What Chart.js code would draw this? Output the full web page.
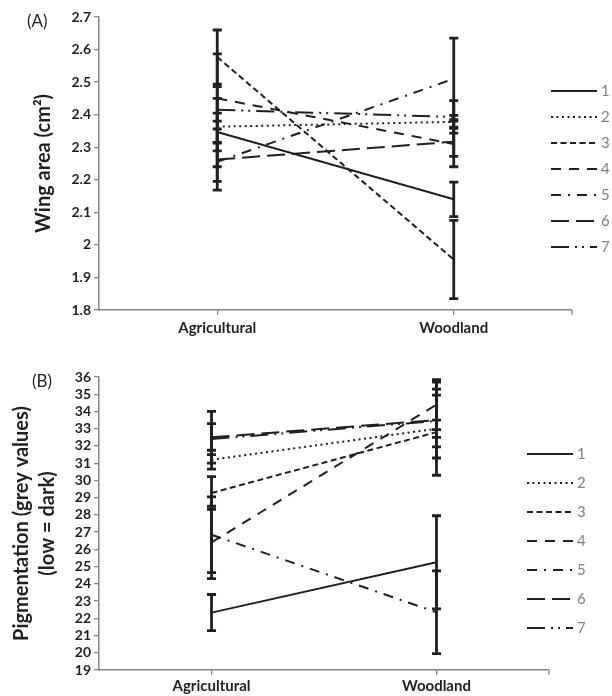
<!DOCTYPE html>
<html><head><meta charset="utf-8">
<script src="https://cdn.jsdelivr.net/npm/chart.js@4"></script>
<style>
body{margin:0;background:#fff;width:612px;height:696px;position:relative;overflow:hidden;font-family:Lato,sans-serif}
#wa{position:absolute;left:0;top:0;width:612px;height:345px}
#wb{position:absolute;left:0;top:345px;width:612px;height:351px}
.pl{position:absolute;font:17px Lato,sans-serif;color:#231f20;line-height:20px}
</style></head><body>
<div id="wa"><canvas id="ca"></canvas></div>
<div id="wb"><canvas id="cb"></canvas></div>
<div class="pl" style="left:27px;top:11px">(A)</div>
<div class="pl" style="left:32px;top:371px">(B)</div>
<script>
// ---- data ----
const categories = ['Agricultural', 'Woodland'];
const seriesNames = ['1', '2', '3', '4', '5', '6', '7'];

// Panel A: wing area (cm²), [Agricultural, Woodland] per series
const wingMeans = [
  [2.347, 2.140],
  [2.363, 2.378],
  [2.577, 1.955],
  [2.450, 2.310],
  [2.255, 2.510],
  [2.262, 2.317],
  [2.415, 2.393]
];
const wingErrors = [
  [0.058, 0.053],
  [0.123, 0.020],
  [0.083, 0.120],
  [0.137, 0.070],
  [0.060, 0.125],
  [0.094, 0.045],
  [0.035, 0.050]
];
const wingTicks = {min: 1.8, max: 2.7, step: 0.1};

// Panel B: pigmentation (grey values)
const pigMeans = [
  [22.33, 25.25],
  [31.20, 33.00],
  [29.27, 32.80],
  [26.40, 34.40],
  [26.85, 22.35],
  [32.50, 33.50],
  [32.40, 33.45]
];
const pigErrors = [
  [1.05, 2.70],
  [0.55, 0.50],
  [0.95, 2.50],
  [2.10, 1.45],
  [2.20, 2.40],
  [1.50, 2.20],
  [0.90, 1.50]
];
const pigTicks = {min: 19, max: 36, step: 1};

// ---- styles ----
const INK = '#231f20', AXIS = '#868686', LEG = '#808080';
const dashes = [[], [2, 3.5], [6, 3.5], [10, 8], [10, 7, 2, 7], [18, 7], [18, 6, 2, 5, 2, 6]];

const errorBars = {
  id: 'errorBars',
  afterDatasetsDraw(chart, args, o) {
    const {ctx, scales: {x, y}} = chart;
    ctx.save();
    ctx.strokeStyle = o.color; ctx.lineWidth = o.width; ctx.setLineDash([]); ctx.lineCap = 'butt';
    chart.data.datasets.forEach(ds => {
      ds.data.forEach((v, i) => {
        const e = ds.errors[i];
        const px = x.getPixelForValue(i);
        const t = y.getPixelForValue(v + e), b = y.getPixelForValue(v - e);
        ctx.beginPath();
        ctx.moveTo(px, t); ctx.lineTo(px, b);
        ctx.moveTo(px - o.cap, t); ctx.lineTo(px + o.cap, t);
        ctx.moveTo(px - o.cap, b); ctx.lineTo(px + o.cap, b);
        ctx.stroke();
      });
    });
    ctx.restore();
  }
};

const sideLegend = {
  id: 'sideLegend',
  afterDraw(chart, args, o) {
    const ctx = chart.ctx;
    ctx.save();
    // end tick of the category axis
    const a = chart.chartArea;
    ctx.strokeStyle = AXIS; ctx.lineWidth = 1.3;
    ctx.beginPath(); ctx.moveTo(a.right, a.bottom); ctx.lineTo(a.right, a.bottom + 5); ctx.stroke();
    chart.data.datasets.forEach((ds, i) => {
      const yy = o.y0 + i * o.dy;
      ctx.strokeStyle = ds.borderColor; ctx.lineWidth = 2.2;
      ctx.setLineDash(ds.borderDash || []);
      ctx.beginPath(); ctx.moveTo(o.x1, yy); ctx.lineTo(o.x2, yy); ctx.stroke();
      ctx.setLineDash([]);
      ctx.fillStyle = LEG; ctx.font = '15px Lato, sans-serif';
      ctx.textBaseline = 'middle'; ctx.textAlign = 'left';
      ctx.fillText(ds.label, o.x2 + 4, yy);
    });
    ctx.restore();
  }
};

function buildDatasets(means, errors) {
  return seriesNames.map((n, i) => ({
    label: n,
    data: means[i],
    errors: errors[i],
    borderColor: INK,
    borderWidth: 2,
    borderDash: dashes[i],
    pointRadius: 0,
    fill: false,
    tension: 0
  }));
}

function makeChart(id, means, errors, tk, title, lay) {
  return new Chart(document.getElementById(id), {
    type: 'line',
    data: {labels: categories, datasets: buildDatasets(means, errors)},
    plugins: [errorBars, sideLegend],
    options: {
      responsive: true, maintainAspectRatio: false, animation: false,
      layout: {padding: {left: 0, right: lay.right, top: lay.top, bottom: 0}},
      plugins: {
        legend: {display: false}, tooltip: {enabled: false},
        errorBars: {color: INK, width: 2.8, cap: 4.5},
        sideLegend: lay.legend
      },
      scales: {
        x: {
          type: 'category', offset: true,
          grid: {drawOnChartArea: false, offset: false, tickLength: 5, color: AXIS, lineWidth: 1.3},
          border: {color: AXIS, width: 1.5},
          ticks: {color: INK, font: {family: 'Lato', weight: 'bold', size: 15}, padding: lay.xpad, maxRotation: 0},
          afterFit(s) { s.height = lay.xh; }
        },
        y: {
          min: tk.min, max: tk.max,
          ticks: {stepSize: tk.step, autoSkip: false, color: INK,
                  font: {family: 'Lato', weight: 'bold', size: 14, lineHeight: 1.0}, padding: 3,
                  callback: v => String(+Number(v).toFixed(1))},
          grid: {drawOnChartArea: false, tickLength: 5, color: AXIS, lineWidth: 1.3},
          border: {color: AXIS, width: 1.5},
          title: {display: true, text: title, color: INK,
                  font: {family: 'Lato', weight: 'bold', size: 20, lineHeight: lay.tlh},
                  padding: {top: lay.tpad, bottom: 0}},
          afterFit(s) { s.width = 99; }
        }
      }
    }
  });
}

makeChart('ca', wingMeans, wingErrors, wingTicks, 'Wing area (cm²)',
  {right: 40, top: 17, xh: 35, xpad: 4, tlh: 1.2, tpad: 32,
   legend: {x1: 551, x2: 597, y0: 91, dy: 26}});

makeChart('cb', pigMeans, pigErrors, pigTicks, ['Pigmentation (grey values)', '(low = dark)'],
  {right: 63, top: 32, xh: 26, xpad: 2, tlh: 1.3, tpad: 9,
   legend: {x1: 527, x2: 573, y0: 109, dy: 29}});
</script>
</body></html>
